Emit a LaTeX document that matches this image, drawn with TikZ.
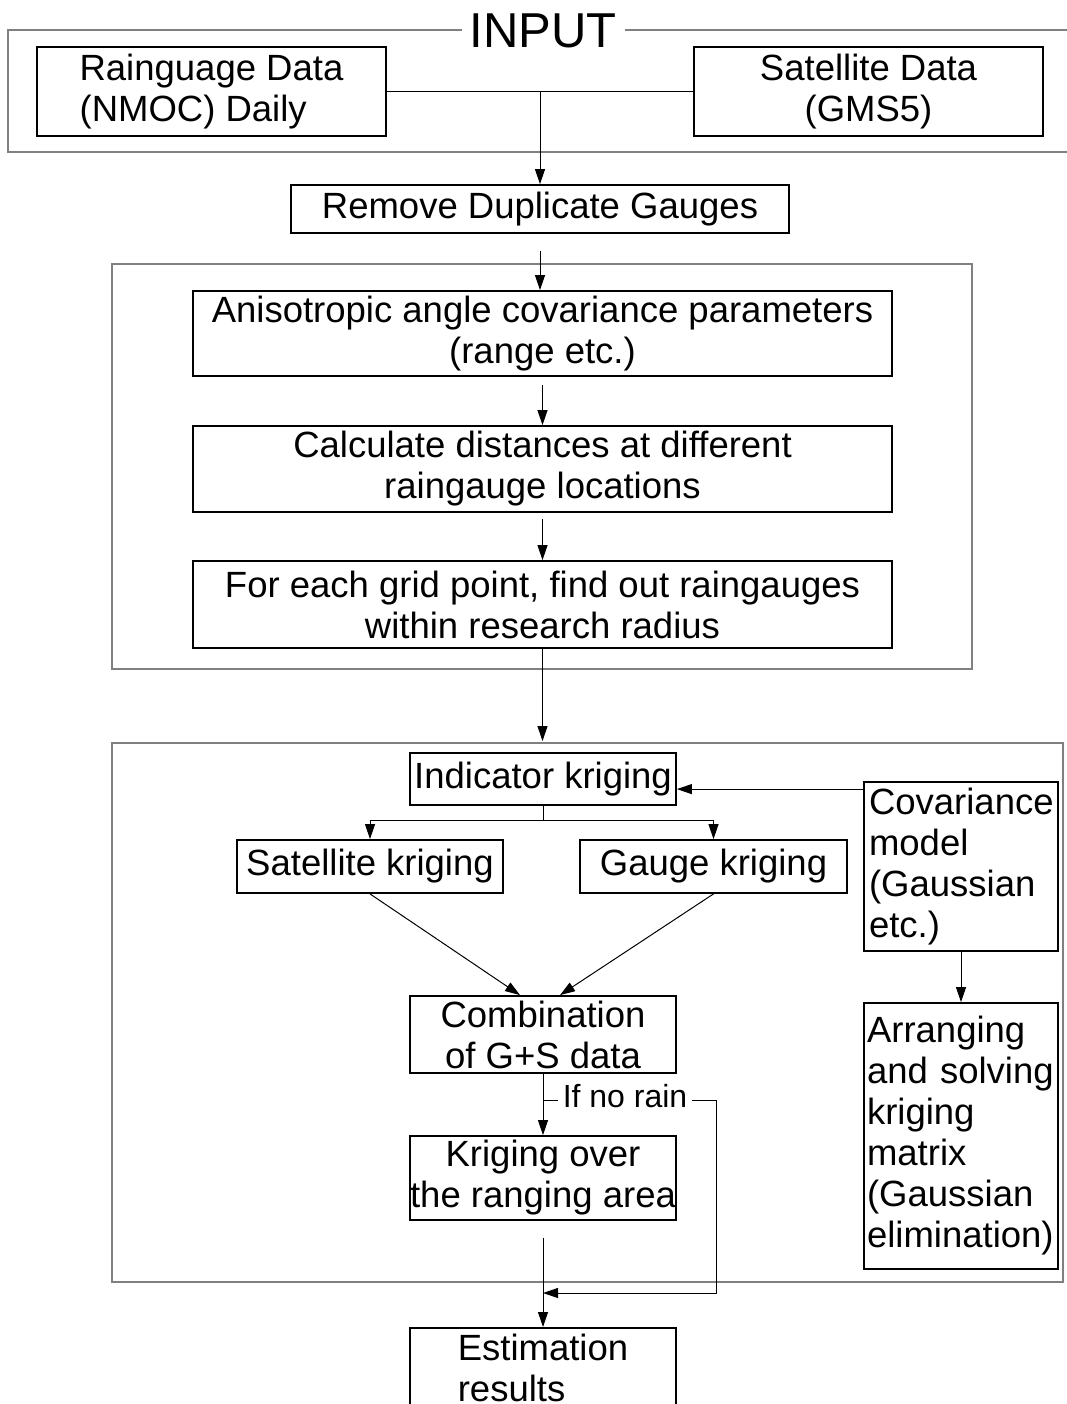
\documentclass[tikz,border=0pt]{standalone}
\usepackage{fontspec}
\setmainfont{Liberation Sans}
\usetikzlibrary{arrows.meta}
\tikzset{
  box/.style={draw, line width=1.8pt, inner sep=0pt, font=\fontsize{36.5}{41}\selectfont},
  frame/.style={draw=black!50, line width=1.5pt},
  conn/.style={line width=1pt},
  arrowline/.style={conn, -{Triangle[length=15pt,width=10pt]}},
}
\begin{document}
\begin{tikzpicture}[x=1pt,y=-1pt]
\useasboundingbox (0,0) rectangle (1067,1404);
\clip (0,0) rectangle (1067,1404);
\fill[white] (0,0) rectangle (1067,1404);

% frames
\draw[frame] (1067,30) -- (8,30) -- (8,152) -- (1067,152);
\draw[frame] (112,264) rectangle (972,669);
\draw[frame] (112,743) rectangle (1063,1282);

\node[fill=white, inner xsep=8pt, inner ysep=2pt, font=\fontsize{49}{55}\selectfont] (input) at (543,31) {INPUT};

% input boxes
\node[box, minimum width=349pt, minimum height=89pt, align=left] (rain) at (211.5,91.5) {Rainguage Data\\(NMOC) Daily};
\node[box, minimum width=349pt, minimum height=89pt, align=center] (sat) at (868.5,91.5) {Satellite Data\\(GMS5)};

\node[box, minimum width=498pt, minimum height=48pt] (remove) at (540,209) {Remove Duplicate Gauges};

\node[box, minimum width=699pt, minimum height=85pt, align=center] (aniso) at (542.5,333.5) {Anisotropic angle covariance parameters\\(range etc.)};
\node[box, minimum width=699pt, minimum height=86pt, align=center] (calc) at (542.5,469) {Calculate distances at different\\raingauge locations};
\node[box, minimum width=699pt, minimum height=87pt, align=center] (foreach) at (542.5,604.5) {For each grid point, find out raingauges\\within research radius};

\node[box, minimum width=266pt, minimum height=52pt] (indic) at (543,779) {Indicator kriging};
\node[box, minimum width=194pt, minimum height=169pt, text width=184pt, align=left] (cov) at (961,866.5) {Covariance\\model\\(Gaussian\\etc.)};
\node[box, minimum width=266pt, minimum height=53pt] (satk) at (370,866.5) {Satellite kriging};
\node[box, minimum width=267pt, minimum height=53pt] (gaugek) at (713.5,866.5) {Gauge kriging};
\node[box, minimum width=266pt, minimum height=77pt, align=center] (comb) at (543,1034.5) {Combination\\of G+S data};
\node[box, minimum width=194pt, minimum height=266pt, text width=188pt, align=left] (arrange) at (961,1136) {Arranging\\and solving\\kriging\\matrix\\(Gaussian\\elimination)};
\node[box, minimum width=266pt, minimum height=84pt, align=center] (krig) at (543,1178) {Kriging over\\the ranging area};
\node[box, minimum width=266pt, minimum height=80pt, anchor=north, align=left] (est) at (543,1327) {Estimation\\results};

\node[inner xsep=5pt, inner ysep=0pt, font=\fontsize{32}{36}\selectfont] (norain) at (625,1096) {If no rain};

% connectors
\draw[conn] (rain.east) -- (sat.west);
\path (rain.east) -- (sat.west) coordinate[pos=0.5] (inj);
\draw[arrowline] (inj) -- (inj |- remove.north);
\draw[arrowline, shorten <=17pt] (remove.south) -- (remove.south |- aniso.north);
\draw[arrowline, shorten <=8pt] (aniso.south) -- (aniso.south |- calc.north);
\draw[arrowline, shorten <=6pt] (calc.south) -- (calc.south |- foreach.north);
\coordinate (f3in) at (541,741);
\draw[arrowline] (foreach.south) -- (foreach.south |- f3in);

\coordinate (covin) at ([yshift=-8pt]cov.north west);
\draw[arrowline] (covin) -- (covin -| indic.east);
\draw[conn] (indic.south) -- ++(0,15) coordinate (split);
\draw[arrowline] (split) -| (satk.north);
\draw[arrowline] (split) -| (gaugek.north);
\draw[arrowline] (satk.south) -- ([xshift=-23pt]comb.north);
\draw[arrowline] (gaugek.south) -- ([xshift=17pt]comb.north);
\draw[arrowline] (cov.south) -- (arrange.north);
\draw[arrowline] (comb.south) -- (krig.north);

\draw[conn] (comb.south |- norain.west) ++(0,4) -- ([yshift=-4pt]norain.west);
\coordinate (nr1) at (716,1100);
\coordinate (nr2) at (716,1293);
\draw[arrowline] ([yshift=-4pt]norain.east) -- (nr1) -- (nr2) -- (nr2 -| krig.south);
\draw[arrowline, shorten <=17pt] (krig.south) -- (est.north);
\end{tikzpicture}
\end{document}
